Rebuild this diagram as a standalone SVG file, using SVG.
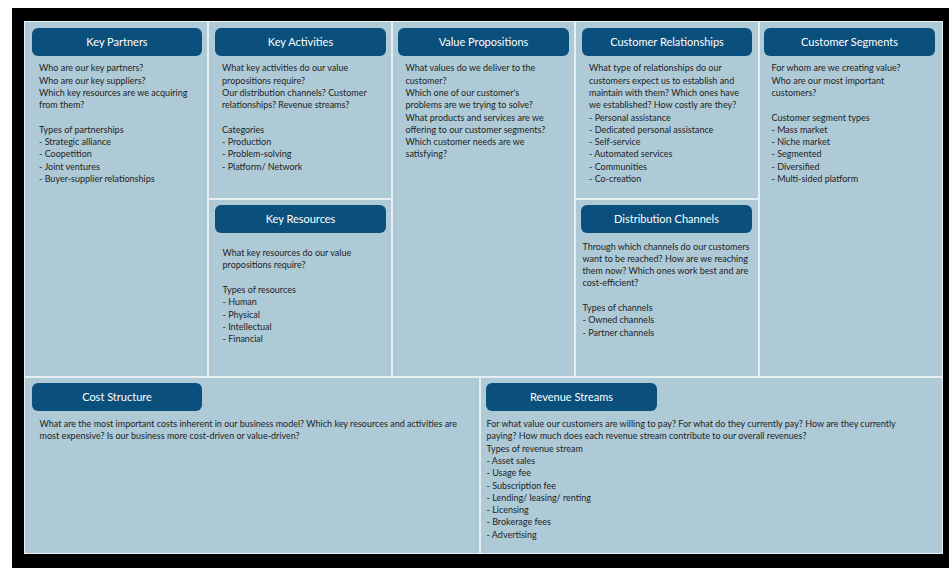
<svg xmlns="http://www.w3.org/2000/svg" width="949" height="568" viewBox="0 0 949 568">
<style>
.panel{fill:#aecad7}
.hdr{fill:#0b4f7c}
.ht{font-family:Lato,"Liberation Sans",sans-serif;font-size:11px;fill:#ffffff;text-anchor:middle}
.bt{font-family:Lato,"Liberation Sans",sans-serif;font-size:9px;fill:#1e1e1e}
</style>
<rect x="0" y="0" width="949" height="568" fill="#ffffff"/>
<rect x="12" y="8" width="937" height="560" fill="#000000"/>
<rect x="24" y="21" width="919" height="533" fill="#e8eff2"/>

<g id="key-partners">
<rect class="panel" x="25" y="22" width="182" height="354"/>
<rect class="hdr" x="32" y="28" width="170" height="28" rx="6"/>
<text class="ht" x="117" y="46">Key Partners</text>
<text class="bt" y="71.3"><tspan x="39">Who are our key partners?</tspan><tspan x="39" dy="12.3">Who are our key suppliers?</tspan><tspan x="39" dy="12.3">Which key resources are we acquiring</tspan><tspan x="39" dy="12.3">from them?</tspan><tspan x="39" dy="24.6">Types of partnerships</tspan><tspan x="39" dy="12.3">- Strategic alliance</tspan><tspan x="39" dy="12.3">- Coopetition</tspan><tspan x="39" dy="12.3">- Joint ventures</tspan><tspan x="39" dy="12.3">- Buyer-supplier relationships</tspan></text>
</g>

<g id="key-activities">
<rect class="panel" x="209" y="22" width="182" height="176"/>
<rect class="hdr" x="215" y="28" width="171" height="28" rx="6"/>
<text class="ht" x="300.5" y="46">Key Activities</text>
<text class="bt" y="71.3"><tspan x="222">What key activities do our value</tspan><tspan x="222" dy="12.3">propositions require?</tspan><tspan x="222" dy="12.3">Our distribution channels?  Customer</tspan><tspan x="222" dy="12.3">relationships? Revenue streams?</tspan><tspan x="222" dy="24.6">Categories</tspan><tspan x="222" dy="12.3">- Production</tspan><tspan x="222" dy="12.3">- Problem-solving</tspan><tspan x="222" dy="12.3">- Platform/ Network</tspan></text>
</g>

<g id="key-resources">
<rect class="panel" x="209" y="200" width="182" height="176"/>
<rect class="hdr" x="215" y="205" width="171" height="28" rx="6"/>
<text class="ht" x="300.5" y="223">Key Resources</text>
<text class="bt" y="256"><tspan x="222.5">What key resources do our value</tspan><tspan x="222.5" dy="12.3">propositions require?</tspan><tspan x="222.5" dy="24.6">Types of resources</tspan><tspan x="222.5" dy="12.3">- Human</tspan><tspan x="222.5" dy="12.3">- Physical</tspan><tspan x="222.5" dy="12.3">- Intellectual</tspan><tspan x="222.5" dy="12.3">- Financial</tspan></text>
</g>

<g id="value-propositions">
<rect class="panel" x="393" y="22" width="181" height="354"/>
<rect class="hdr" x="398" y="28" width="171" height="28" rx="6"/>
<text class="ht" x="483.5" y="46">Value Propositions</text>
<text class="bt" y="71.3"><tspan x="405.5">What values do we deliver to the</tspan><tspan x="405.5" dy="12.3">customer?</tspan><tspan x="405.5" dy="12.3">Which one of our customer's</tspan><tspan x="405.5" dy="12.3">problems are we trying to solve?</tspan><tspan x="405.5" dy="12.3">What products and services are we</tspan><tspan x="405.5" dy="12.3">offering to our customer segments?</tspan><tspan x="405.5" dy="12.3">Which customer needs are we</tspan><tspan x="405.5" dy="12.3">satisfying?</tspan></text>
</g>

<g id="customer-relationships">
<rect class="panel" x="576" y="22" width="182" height="176"/>
<rect class="hdr" x="582" y="28" width="170" height="28" rx="6"/>
<text class="ht" x="667" y="46">Customer Relationships</text>
<text class="bt" y="71.3"><tspan x="589">What type of relationships do our</tspan><tspan x="589" dy="12.3">customers expect us to establish and</tspan><tspan x="589" dy="12.3">maintain with them? Which ones have</tspan><tspan x="589" dy="12.3">we established? How costly are they?</tspan><tspan x="589" dy="12.3">- Personal assistance</tspan><tspan x="589" dy="12.3">- Dedicated personal assistance</tspan><tspan x="589" dy="12.3">- Self-service</tspan><tspan x="589" dy="12.3">- Automated services</tspan><tspan x="589" dy="12.3">- Communities</tspan><tspan x="589" dy="12.3">- Co-creation</tspan></text>
</g>

<g id="distribution-channels">
<rect class="panel" x="576" y="200" width="182" height="176"/>
<rect class="hdr" x="581" y="205" width="171" height="28" rx="6"/>
<text class="ht" x="666.5" y="223">Distribution Channels</text>
<text class="bt" y="249.5"><tspan x="582.5">Through which channels do our customers</tspan><tspan x="582.5" dy="12.3">want to be reached? How are we reaching</tspan><tspan x="582.5" dy="12.3">them now? Which ones work best and are</tspan><tspan x="582.5" dy="12.3">cost-efficient?</tspan><tspan x="582.5" dy="24.6">Types of channels</tspan><tspan x="582.5" dy="12.3">- Owned channels</tspan><tspan x="582.5" dy="12.3">- Partner channels</tspan></text>
</g>

<g id="customer-segments">
<rect class="panel" x="760" y="22" width="182" height="354"/>
<rect class="hdr" x="764" y="28" width="171" height="28" rx="6"/>
<text class="ht" x="849.5" y="46">Customer Segments</text>
<text class="bt" y="71.3"><tspan x="771.5">For whom are we creating value?</tspan><tspan x="771.5" dy="12.3">Who are our most important</tspan><tspan x="771.5" dy="12.3">customers?</tspan><tspan x="771.5" dy="24.6">Customer segment types</tspan><tspan x="771.5" dy="12.3">- Mass market</tspan><tspan x="771.5" dy="12.3">- Niche market</tspan><tspan x="771.5" dy="12.3">- Segmented</tspan><tspan x="771.5" dy="12.3">- Diversified</tspan><tspan x="771.5" dy="12.3">- Multi-sided platform</tspan></text>
</g>

<g id="cost-structure">
<rect class="panel" x="25" y="378" width="454" height="175"/>
<rect class="hdr" x="32" y="383" width="170" height="28" rx="6"/>
<text class="ht" x="117" y="400.5">Cost Structure</text>
<text class="bt" y="427"><tspan x="39.5">What are the most important costs inherent in our business model? Which key resources and activities are</tspan><tspan x="39.5" dy="12.3">most expensive? Is our business more cost-driven or value-driven?</tspan></text>
</g>

<g id="revenue-streams">
<rect class="panel" x="481" y="378" width="461" height="175"/>
<rect class="hdr" x="486" y="383" width="171" height="28" rx="6"/>
<text class="ht" x="571.5" y="400.5">Revenue Streams</text>
<text class="bt" y="427"><tspan x="486.5">For what value our customers are willing to pay? For what do they currently pay? How are they currently</tspan><tspan x="486.5" dy="12.3">paying? How much does each revenue stream contribute to our overall revenues?</tspan><tspan x="486.5" dy="12.3">Types of revenue stream</tspan><tspan x="486.5" dy="12.3">- Asset sales</tspan><tspan x="486.5" dy="12.3">- Usage fee</tspan><tspan x="486.5" dy="12.3">- Subscription fee</tspan><tspan x="486.5" dy="12.3">- Lending/ leasing/ renting</tspan><tspan x="486.5" dy="12.3">- Licensing</tspan><tspan x="486.5" dy="12.3">- Brokerage fees</tspan><tspan x="486.5" dy="12.3">- Advertising</tspan></text>
</g>

<g id="connectors"></g>
</svg>
